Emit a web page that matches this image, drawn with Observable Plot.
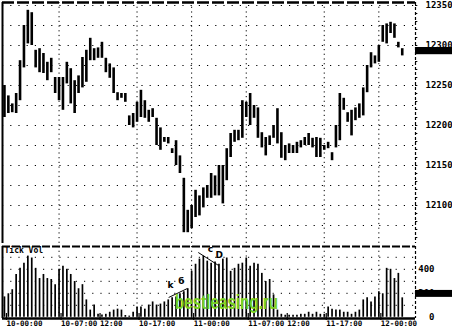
<!DOCTYPE html>
<html><head><meta charset="utf-8">
<script src="https://cdn.jsdelivr.net/npm/d3@7"></script>
<script src="https://cdn.jsdelivr.net/npm/@observablehq/plot@0.6"></script>
<style>
body{margin:0;background:#fff}
#wrap{position:relative;width:452px;height:331px;overflow:hidden;background:#fff}
#wrap svg{position:absolute;left:0;overflow:visible}
#wm{position:absolute;left:175px;top:292px;font:bold 20px "Liberation Sans",Arial,sans-serif;line-height:20px;color:#79d424;transform:scaleX(0.76);transform-origin:0 0;white-space:nowrap}
</style>
</head><body><div id="wrap"></div>
<script>
// 30-minute bars, 10-00:00 .. 12-03:00
const high = [12250,12237,12227,12240,12281,12325,12344,12341,12294,12296,
12290,12279,12284,12260,12260,12260,12279,12271,12256,12262,
12285,12294,12309,12296,12297,12304,12284,12277,12272,12241,
12240,12240,12212,12215,12229,12244,12231,12219,12221,12209,
12197,12185,12185,12171,12181,12162,12134,12094,12100,12119,
12112,12122,12125,12140,12137,12150,12150,12171,12190,12194,
12194,12231,12229,12240,12225,12222,12191,12185,12187,12200,
12221,12191,12175,12177,12175,12179,12181,12185,12190,12184,
12185,12184,12175,12179,12166,12200,12240,12234,12216,12219,
12222,12227,12247,12275,12291,12287,12300,12325,12327,12329,
12327,12304,12296];
const low = [12210,12215,12216,12215,12231,12272,12302,12300,12272,12266,
12265,12256,12266,12240,12231,12219,12252,12227,12215,12240,
12247,12254,12281,12281,12284,12284,12266,12259,12240,12231,
12234,12229,12200,12197,12204,12210,12209,12204,12210,12175,
12169,12179,12177,12165,12150,12140,12066,12066,12071,12085,
12087,12097,12109,12109,12112,12112,12102,12131,12160,12179,
12181,12184,12210,12200,12209,12184,12172,12162,12175,12184,
12177,12159,12156,12165,12165,12165,12172,12175,12175,12172,
12160,12160,12169,12171,12156,12172,12181,12219,12204,12187,
12206,12209,12212,12241,12272,12277,12279,12304,12302,12315,
12309,12297,12287];
const volume = [170,196,230,357,408,451,510,494,408,323,
357,323,315,272,400,425,400,357,298,238,
272,145,60,102,25,20,25,42,60,68,
60,15,10,42,85,85,68,102,128,102,
110,128,145,162,170,196,213,238,383,442,
485,510,468,451,460,442,485,494,383,408,
442,451,494,425,451,442,366,298,315,187,
60,25,17,17,17,17,25,25,42,25,
42,25,25,85,68,60,60,42,42,25,
42,60,145,162,128,170,213,196,408,400,
323,366,162];
const timeLabels = ["10-00:00","10-07:00","12:00","10-17:00","11-00:00","11-07:00","12:00","11-17:00","12-00:00"];
const timeLabelBars = [0,14,24,34,48,62,72,82,96];
const gridBars = [14,34,48,62,82,96];
const priceTicks = [12100,12150,12200,12250,12300,12350];
const priceGrid = [12075,12100,12125,12150,12175,12200,12225,12250,12275,12300,12325,12350];
const volTicks = [0,200,400];
const volGrid = [100,200,300,400,500];
const lastPrice = 12293;
const lastVolume = 195;
const noteText = ["k","б","c","D"];
const noteBar = [42.6,45.4,52.8,55.1];
const noteVol = [265,298,565,515];
const noteLines = [{x1:42.1,y1:165,x2:46.9,y2:240},{x1:49.7,y1:540,x2:54.9,y2:432}];

const bars = high.map((h,i)=>({i, high:h, low:low[i], volume:volume[i]}));
const labelByBar = new Map(timeLabelBars.map((b,k)=>[b,timeLabels[k]]));
const notes = noteText.map((t,k)=>({t, i:noteBar[k], v:noteVol[k]}));
const xDomain = [-0.5, 105.4];
const pDomain = [12052.5, 12353.75];
const vDomain = [-10, 590];
const font = "DejaVu Sans Mono";
const minorP = d3.range(12060, 12351, 10);

const price = Plot.plot({
  width: 452, height: 245,
  marginTop: 2, marginBottom: 2, marginLeft: 2, marginRight: 37,
  x: {domain: xDomain, axis: null},
  y: {domain: pDomain, axis: null},
  style: {background: "transparent"},
  marks: [
    Plot.ruleY(priceGrid, {stroke: "#000", strokeDasharray: "1.2,7"}),
    Plot.ruleX(gridBars, {stroke: "#000", strokeDasharray: "1.2,3.5"}),
    Plot.ruleX(bars, {x: "i", y1: "low", y2: "high", stroke: "#000", strokeWidth: 2.6}),
    Plot.ruleX([xDomain[0]], {stroke: "#000", strokeWidth: 2}),
    Plot.ruleX([xDomain[1]], {stroke: "#000", strokeWidth: 1.2, strokeDasharray: "3,2"}),
    Plot.ruleY([pDomain[1]], {stroke: "#000", strokeWidth: 2.5, strokeDasharray: "12,3"}),
    Plot.ruleY(minorP, {x1: xDomain[1], x2: xDomain[1] + 0.6, stroke: "#000"}),
    Plot.rect([lastPrice], {x1: xDomain[1], x2: xDomain[1] + 10, y1: d => d - 4.5, y2: d => d + 4.5, fill: "#000"}),
    Plot.axisY({anchor: "right", ticks: priceTicks, tickSize: 0, tickPadding: 10, tickFormat: d => String(d),
      fontFamily: font, fontSize: 9, fontWeight: "bold", fill: "#000"})
  ]
});
price.style.top = "0px";

const vol = Plot.plot({
  width: 452, height: 87,
  marginTop: 2, marginBottom: 13, marginLeft: 2, marginRight: 37,
  x: {domain: xDomain, axis: null},
  y: {domain: vDomain, axis: null},
  style: {background: "transparent"},
  marks: [
    Plot.ruleY(volGrid, {stroke: "#000", strokeDasharray: "1.2,7"}),
    Plot.ruleX(gridBars, {stroke: "#000", strokeDasharray: "1.2,3.5"}),
    Plot.ruleX(bars, {x: "i", y1: 0, y2: "volume", stroke: "#000", strokeWidth: 1.7}),
    Plot.ruleX([xDomain[0]], {stroke: "#000", strokeWidth: 2}),
    Plot.ruleX([xDomain[1]], {stroke: "#000", strokeWidth: 1.2, strokeDasharray: "3,2"}),
    Plot.ruleY([vDomain[1]], {stroke: "#000", strokeWidth: 2.2, strokeDasharray: "8,2"}),
    Plot.ruleY([vDomain[0]], {stroke: "#000", strokeWidth: 2.5}),
    Plot.rect([lastVolume], {x1: xDomain[1], x2: xDomain[1] + 10, y1: d => d - 29, y2: d => d + 29, fill: "#000"}),
    Plot.text(["Tick Vol"], {frameAnchor: "top-left", dx: 2, dy: 1, lineAnchor: "top", textAnchor: "start",
      fontFamily: font, fontSize: 8, fontWeight: "bold", fill: "#000"}),
    Plot.text(notes, {x: "i", y: "v", text: "t", fontFamily: "DejaVu Sans", fontSize: 9, fontWeight: "bold", fill: "#000"}),
    Plot.link(noteLines, {x1: "x1", y1: "y1", x2: "x2", y2: "y2", stroke: "#000", strokeWidth: 1}),
    Plot.axisY({anchor: "right", ticks: volTicks, tickSize: 0, tickPadding: 19, textAnchor: "end", tickFormat: d => String(d),
      fontFamily: font, fontSize: 9, fontWeight: "bold", fill: "#000"}),
    Plot.axisX({ticks: timeLabelBars, tickFormat: d => labelByBar.get(d), tickSize: 7, tickPadding: 0,
      textAnchor: "start", dx: 2, dy: -5, stroke: "#000", strokeWidth: 1.2,
      fontFamily: font, fontSize: 7.5, fontWeight: "bold", fill: "#000"})
  ]
});
vol.style.top = "244px";

const wrap = document.getElementById("wrap");
wrap.appendChild(price);
wrap.appendChild(vol);
const wm = document.createElement("div");
wm.id = "wm";
wm.textContent = "bestleasing.ru";
wrap.appendChild(wm);
</script>
</body></html>
